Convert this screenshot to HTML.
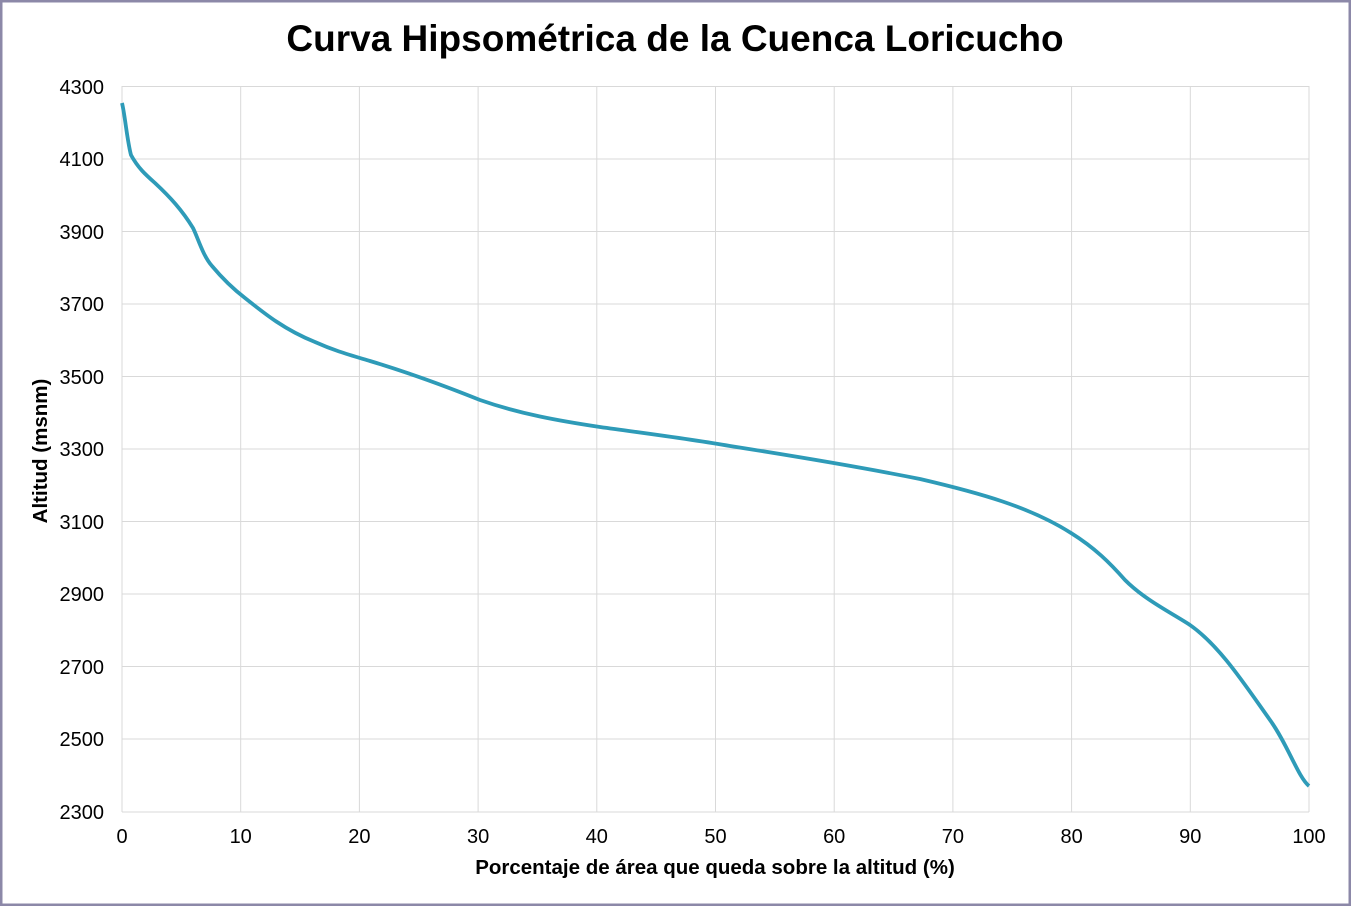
<!DOCTYPE html>
<html><head><style>
body{margin:0;background:#fff;}
svg{display:block;font-family:"Liberation Sans",Arial,sans-serif;}
</style></head><body>
<svg width="1351" height="906" viewBox="0 0 1351 906">
<rect x="1" y="1" width="1349" height="904" fill="#fff" stroke="#8c88a8" stroke-width="3"/>
<text x="675" y="51" text-anchor="middle" font-size="37" font-weight="bold" fill="#000">Curva Hipsométrica de la Cuenca Loricucho</text>
<g stroke="#d9d9d9" stroke-width="1">
<line x1="122" y1="86.5" x2="1309" y2="86.5"/><line x1="122" y1="159" x2="1309" y2="159"/><line x1="122" y1="231.5" x2="1309" y2="231.5"/><line x1="122" y1="304" x2="1309" y2="304"/><line x1="122" y1="376.5" x2="1309" y2="376.5"/><line x1="122" y1="449" x2="1309" y2="449"/><line x1="122" y1="521.5" x2="1309" y2="521.5"/><line x1="122" y1="594" x2="1309" y2="594"/><line x1="122" y1="666.5" x2="1309" y2="666.5"/><line x1="122" y1="739" x2="1309" y2="739"/><line x1="122" y1="812" x2="1309" y2="812"/>
<line x1="122" y1="86" x2="122" y2="812"/><line x1="240.7" y1="86" x2="240.7" y2="812"/><line x1="359.4" y1="86" x2="359.4" y2="812"/><line x1="478.1" y1="86" x2="478.1" y2="812"/><line x1="596.8" y1="86" x2="596.8" y2="812"/><line x1="715.5" y1="86" x2="715.5" y2="812"/><line x1="834.2" y1="86" x2="834.2" y2="812"/><line x1="952.9" y1="86" x2="952.9" y2="812"/><line x1="1071.6" y1="86" x2="1071.6" y2="812"/><line x1="1190.3" y1="86" x2="1190.3" y2="812"/><line x1="1309" y1="86" x2="1309" y2="812"/>
</g>
<g font-size="20" fill="#000" text-anchor="end">
<text x="104" y="94">4300</text><text x="104" y="166">4100</text><text x="104" y="239">3900</text><text x="104" y="311">3700</text><text x="104" y="384">3500</text><text x="104" y="456">3300</text><text x="104" y="529">3100</text><text x="104" y="601">2900</text><text x="104" y="674">2700</text><text x="104" y="746">2500</text><text x="104" y="819">2300</text>
</g>
<g font-size="20" fill="#000" text-anchor="middle">
<text x="122" y="843">0</text><text x="240.7" y="843">10</text><text x="359.4" y="843">20</text><text x="478.1" y="843">30</text><text x="596.8" y="843">40</text><text x="715.5" y="843">50</text><text x="834.2" y="843">60</text><text x="952.9" y="843">70</text><text x="1071.6" y="843">80</text><text x="1190.3" y="843">90</text><text x="1309" y="843">100</text>
</g>
<text x="715" y="874" text-anchor="middle" font-size="20.5" font-weight="bold">Porcentaje de área que queda sobre la altitud (%)</text>
<text transform="translate(47,451) rotate(-90)" text-anchor="middle" font-size="20.5" font-weight="bold">Altitud (msnm)</text>
<path fill="none" stroke="#2e9bb8" stroke-width="3.8" stroke-linejoin="round" d="M122,103 C125,115 127,140 131,155 C138,168 146,175 155,183 C170,197 182,210 193,228 C198,238 203,256 212,266 C222,278 232,288 245,298 C265,314 285,330 315,342 C335,351 350,355 370,361 C400,370 430,380 480,400 C520,414 560,421 600,427 C650,434 690,439 730,446 C800,457 860,467 920,479 C980,493 1030,507 1071,533 C1095,548 1110,563 1125,580 C1145,600 1170,612 1190,625 C1220,646 1245,685 1270,720 C1288,745 1298,777 1309,786"/>
</svg>
</body></html>
